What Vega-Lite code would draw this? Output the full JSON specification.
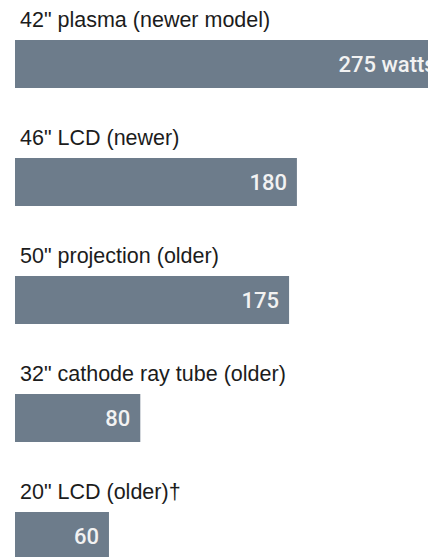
{
  "$schema": "https://vega.github.io/schema/vega-lite/v6.json",
  "width": 413,
  "height": 600,
  "autosize": "none",
  "padding": {"left": 15, "top": 0, "right": 0, "bottom": 0},
  "background": "white",
  "config": {"view": {"stroke": null}},
  "data": {
    "values": [
      {"name": "42\" plasma (newer model)", "watts": 275, "valueLabel": "275 watts"},
      {"name": "46\" LCD (newer)", "watts": 180, "valueLabel": "180"},
      {"name": "50\" projection (older)", "watts": 175, "valueLabel": "175"},
      {"name": "32\" cathode ray tube (older)", "watts": 80, "valueLabel": "80"},
      {"name": "20\" LCD (older)†", "watts": 60, "valueLabel": "60"}
    ]
  },
  "encoding": {
    "y": {
      "field": "name",
      "type": "nominal",
      "sort": null,
      "axis": null,
      "scale": {"paddingInner": 0.593, "paddingOuter": 0.339}
    }
  },
  "layer": [
    {
      "mark": {"type": "bar", "color": "#6d7c8b"},
      "encoding": {
        "x": {"field": "watts", "type": "quantitative", "axis": null, "scale": {"domain": [0, 263.7], "nice": false, "zero": true}}
      }
    },
    {
      "mark": {"type": "text", "align": "right", "baseline": "middle", "dx": -10, "dy": 1, "font": "Roboto, sans-serif", "fontWeight": 500, "fontSize": 22, "color": "#f2f2f2"},
      "encoding": {
        "x": {"field": "watts", "type": "quantitative"},
        "text": {"field": "valueLabel"}
      }
    },
    {
      "mark": {"type": "text", "align": "left", "baseline": "alphabetic", "dx": 5, "dy": -37, "font": "Liberation Sans, Arial, sans-serif", "fontSize": 21.5, "color": "#1c1c1c"},
      "encoding": {
        "x": {"datum": 0, "type": "quantitative"},
        "text": {"field": "name"}
      }
    }
  ]
}
